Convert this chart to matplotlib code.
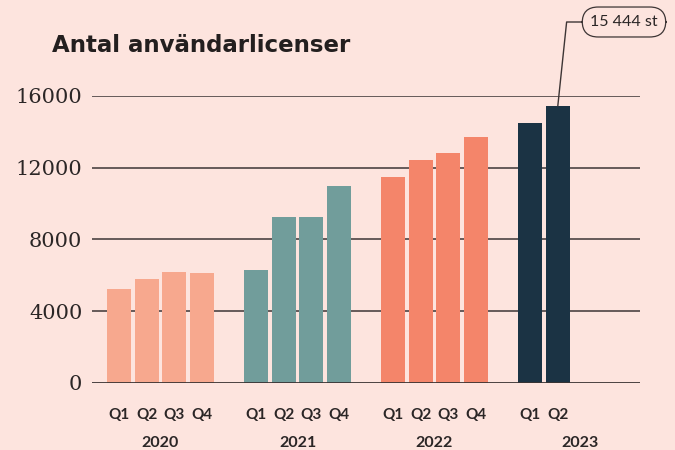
import matplotlib.pyplot as plt

# data
years = ["2020", "2021", "2022", "2023"]
quarters = [["Q1", "Q2", "Q3", "Q4"],
            ["Q1", "Q2", "Q3", "Q4"],
            ["Q1", "Q2", "Q3", "Q4"],
            ["Q1", "Q2"]]
licenses_2020 = [5240, 5800, 6190, 6130]
licenses_2021 = [6300, 9250, 9250, 10980]
licenses_2022 = [11480, 12430, 12820, 13710]
licenses_2023 = [14490, 15444]
series = [licenses_2020, licenses_2021, licenses_2022, licenses_2023]
colors = ["#F7A88E", "#719D9B", "#F4856A", "#1B3344"]
yticks = [0, 4000, 8000, 12000, 16000]
callout = "15 444 st"

bg = "#FDE4DE"
fig = plt.figure(figsize=(6.75, 4.5), dpi=100, facecolor=bg)
ax = fig.add_axes([92 / 675, 1 - 383 / 450, 548 / 675, 287 / 450])
ax.set_facecolor(bg)

# one empty slot between years
xpos, xlab = [], []
for i, (vals, qs) in enumerate(zip(series, quarters)):
    xs = [i * 5 + j for j in range(len(vals))]
    ax.bar(xs, vals, width=0.875, color=colors[i], zorder=2)
    xpos += xs
    xlab += qs

for y in yticks[1:]:
    ax.axhline(y, color="#3d3535", lw=1.1, zorder=1)
ax.axhline(0, color="#3a3333", lw=2, zorder=3)

ax.set_xlim(-1, 19)
ax.set_ylim(0, 16000)
for s in ax.spines.values():
    s.set_visible(False)

ax.set_yticks(yticks)
ax.set_yticklabels([str(v) for v in yticks], family="DejaVu Serif",
                   fontsize=15, color="#2b2626")
ax.set_xticks(xpos)
ax.set_xticklabels(xlab, family="Lato", fontsize=11, fontweight="bold",
                   color="#2b2626")
ax.tick_params(length=0)
ax.tick_params(axis="y", pad=7)
ax.tick_params(axis="x", pad=18)

# year labels under the quarter labels
year_x = [1.5, 6.5, 11.5, 16.8]
for x, yr in zip(year_x, years):
    ax.text(x, -3330, yr, ha="center", va="center", family="Lato",
            fontsize=11.5, fontweight="bold", color="#2b2626", clip_on=False)

fig.text(52 / 675, 1 - 52 / 450, "Antal användarlicenser", fontsize=16.5,
         fontweight="heavy", color="#231f1f", va="baseline")

ax.annotate(callout, xy=(16, licenses_2023[-1]), xytext=(624, 428),
            textcoords="figure pixels", ha="center", va="center",
            family="Lato", fontsize=11.5, color="#2b2626",
            bbox=dict(boxstyle="round,pad=0.5,rounding_size=1.0",
                      fc=bg, ec="#3d3535", lw=0.9),
            arrowprops=dict(arrowstyle="-", color="#3d3535", lw=1,
                            relpos=(0, 0.5), shrinkA=0, shrinkB=0,
                            connectionstyle="angle,angleA=0,angleB=84,rad=0"),
            annotation_clip=False)

fig.savefig("out.png", dpi=100, facecolor=bg)
